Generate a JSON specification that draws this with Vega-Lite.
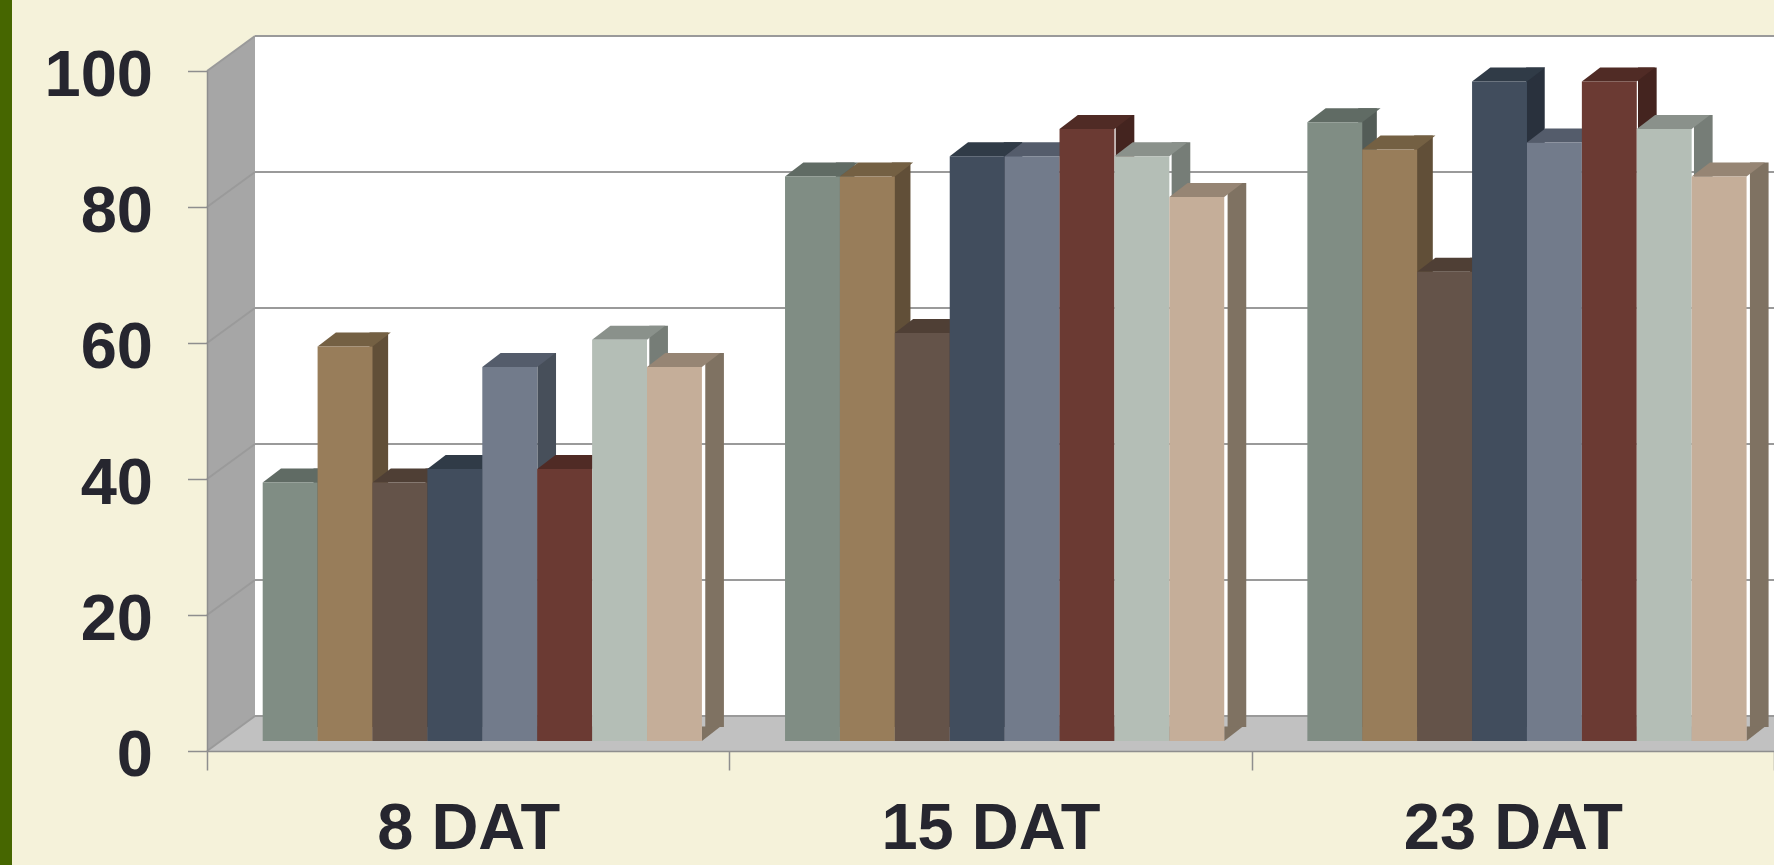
{
  "$schema": "https://vega.github.io/schema/vega-lite/v6.json",
  "width": 1519,
  "height": 680,
  "autosize": {"type": "none"},
  "padding": {"left": 255, "top": 36, "right": 0, "bottom": 149},
  "background": "#F5F2DA",
  "config": {
    "view": {"fill": "#FFFFFF", "stroke": null},
    "axis": {
      "labelFont": "Liberation Sans",
      "labelFontWeight": "bold",
      "labelFontSize": 65,
      "labelColor": "#26262F",
      "labelLimit": 0,
      "domainColor": "#8E8E8E",
      "domainWidth": 1.5,
      "tickColor": "#8E8E8E",
      "tickWidth": 1.5
    }
  },
  "datasets": {
    "germination": [
      {"stage": "8 DAT", "treatment": "T1", "value": 38},
      {"stage": "8 DAT", "treatment": "T2", "value": 58},
      {"stage": "8 DAT", "treatment": "T3", "value": 38},
      {"stage": "8 DAT", "treatment": "T4", "value": 40},
      {"stage": "8 DAT", "treatment": "T5", "value": 55},
      {"stage": "8 DAT", "treatment": "T6", "value": 40},
      {"stage": "8 DAT", "treatment": "T7", "value": 59},
      {"stage": "8 DAT", "treatment": "T8", "value": 55},
      {"stage": "15 DAT", "treatment": "T1", "value": 83},
      {"stage": "15 DAT", "treatment": "T2", "value": 83},
      {"stage": "15 DAT", "treatment": "T3", "value": 60},
      {"stage": "15 DAT", "treatment": "T4", "value": 86},
      {"stage": "15 DAT", "treatment": "T5", "value": 86},
      {"stage": "15 DAT", "treatment": "T6", "value": 90},
      {"stage": "15 DAT", "treatment": "T7", "value": 86},
      {"stage": "15 DAT", "treatment": "T8", "value": 80},
      {"stage": "23 DAT", "treatment": "T1", "value": 91},
      {"stage": "23 DAT", "treatment": "T2", "value": 87},
      {"stage": "23 DAT", "treatment": "T3", "value": 69},
      {"stage": "23 DAT", "treatment": "T4", "value": 97},
      {"stage": "23 DAT", "treatment": "T5", "value": 88},
      {"stage": "23 DAT", "treatment": "T6", "value": 97},
      {"stage": "23 DAT", "treatment": "T7", "value": 90},
      {"stage": "23 DAT", "treatment": "T8", "value": 83}
    ],
    "levels": [
      {"stage": "8 DAT", "level": 0},
      {"stage": "8 DAT", "level": 20},
      {"stage": "8 DAT", "level": 40},
      {"stage": "8 DAT", "level": 60},
      {"stage": "8 DAT", "level": 80},
      {"stage": "8 DAT", "level": 100}
    ]
  },
  "layer": [
    {
      "data": {"values": [{"stage": "8 DAT", "level": 100}]},
      "mark": {"type": "point", "shape": "M-255,-36L-243,-36L-243,829L-255,829Z", "size": 4, "filled": true, "fill": "#466600", "opacity": 1, "strokeWidth": 0},
      "encoding": {
        "x": {"field": "stage", "type": "nominal", "bandPosition": 0, "title": null,
              "scale": {"domain": ["8 DAT", "15 DAT", "23 DAT"], "range": [0, 1567], "paddingInner": 0, "paddingOuter": 0, "round": false}},
        "y": {"field": "level", "type": "quantitative", "scale": {"domain": [0, 100], "nice": false}, "axis": null}
      }
    },
    {
      "data": {"values": [{"stage": "8 DAT", "level": 100}]},
      "mark": {"type": "point", "shape": "M0,0L0,680L-48,715L-48,35Z", "size": 4, "filled": true, "fill": "#A6A6A6", "opacity": 1, "strokeWidth": 0},
      "encoding": {
        "x": {"field": "stage", "type": "nominal", "bandPosition": 0, "title": null,
              "scale": {"domain": ["8 DAT", "15 DAT", "23 DAT"], "range": [0, 1567], "paddingInner": 0, "paddingOuter": 0, "round": false}},
        "y": {"field": "level", "type": "quantitative", "scale": {"domain": [0, 100], "nice": false}, "axis": null}
      }
    },
    {
      "data": {"values": [{"stage": "8 DAT", "level": 0}]},
      "mark": {"type": "point", "shape": "M0,0L1600,0L1552,35.5L-48,35.5Z", "size": 4, "filled": true, "fill": "#C1C1C1", "opacity": 1, "strokeWidth": 0},
      "encoding": {
        "x": {"field": "stage", "type": "nominal", "bandPosition": 0, "title": null,
              "scale": {"domain": ["8 DAT", "15 DAT", "23 DAT"], "range": [0, 1567], "paddingInner": 0, "paddingOuter": 0, "round": false}},
        "y": {"field": "level", "type": "quantitative", "scale": {"domain": [0, 100], "nice": false}, "axis": null}
      }
    },
    {
      "data": {"name": "levels"},
      "mark": {"type": "point", "shape": "M0,0L-48,35", "size": 4, "filled": false, "stroke": "#9A9A9A", "strokeWidth": 2, "opacity": 1},
      "encoding": {
        "x": {"field": "stage", "type": "nominal", "bandPosition": 0, "title": null,
              "scale": {"domain": ["8 DAT", "15 DAT", "23 DAT"], "range": [0, 1567], "paddingInner": 0, "paddingOuter": 0, "round": false}},
        "y": {"field": "level", "type": "quantitative", "scale": {"domain": [0, 100], "nice": false}, "axis": null}
      }
    },
    {
      "data": {"name": "levels"},
      "mark": {"type": "rule", "stroke": "#9A9A9A", "strokeWidth": 2},
      "encoding": {
        "y": {"field": "level", "type": "quantitative", "scale": {"domain": [0, 100], "nice": false},
              "axis": {"orient": "left", "offset": 48, "position": 35, "values": [0, 20, 40, 60, 80, 100],
                       "tickSize": 19.5, "labelPadding": 35, "labelOffset": 4, "labelBaseline": "middle",
                       "grid": false, "zindex": 1, "title": null}}
      }
    },
    {
      "data": {"name": "germination"},
      "mark": {"type": "bar", "strokeWidth": 0},
      "encoding": {
        "x": {"field": "stage", "type": "nominal", "title": null,
              "scale": {"domain": ["8 DAT", "15 DAT", "23 DAT"], "range": [0, 1567], "paddingInner": 0, "paddingOuter": 0, "round": false}},
        "xOffset": {"field": "treatment", "type": "nominal",
                    "scale": {"type": "band", "domain": ["T1", "T2", "T3", "T4", "T5", "T6", "T7", "T8"], "paddingInner": 0.66667, "paddingOuter": 1.0904, "align": 0.5228, "round": false}},
        "y": {"field": "value", "type": "quantitative", "stack": null,
              "scale": {"domain": [0, 100], "nice": false, "range": [691, 11]}, "axis": null},
        "fill": {"field": "treatment", "type": "nominal", "legend": null,
                 "scale": {"domain": ["T1", "T2", "T3", "T4", "T5", "T6", "T7", "T8"],
                           "range": ["#535C57", "#614F38", "#4A3C33", "#29313D", "#474F5A", "#44241F", "#767D77", "#7F7262"]}}
      }
    },
    {
      "data": {"name": "germination"},
      "mark": {"type": "point", "shape": "M27.45,0L27.45,-14.5L46.05,-14.5Z", "size": 4, "filled": true, "opacity": 1, "strokeWidth": 0},
      "encoding": {
        "x": {"field": "stage", "type": "nominal", "title": null,
              "scale": {"domain": ["8 DAT", "15 DAT", "23 DAT"], "range": [0, 1567], "paddingInner": 0, "paddingOuter": 0, "round": false}},
        "xOffset": {"field": "treatment", "type": "nominal",
                    "scale": {"type": "band", "domain": ["T1", "T2", "T3", "T4", "T5", "T6", "T7", "T8"], "paddingInner": 0, "paddingOuter": 0.757, "align": 0.0926, "round": false}},
        "y": {"datum": 0, "type": "quantitative",
              "scale": {"domain": [0, 100], "nice": false, "range": [705, 25]}, "axis": null},
        "fill": {"field": "treatment", "type": "nominal", "legend": null,
                 "scale": {"domain": ["T1", "T2", "T3", "T4", "T5", "T6", "T7", "T8"],
                           "range": ["#535C57", "#614F38", "#4A3C33", "#29313D", "#474F5A", "#44241F", "#767D77", "#7F7262"]}}
      }
    },
    {
      "data": {"name": "germination"},
      "mark": {"type": "point", "shape": "M-27.45,0L27.45,0L45.75,-14L-9.15,-14Z", "size": 4, "filled": true, "opacity": 1, "strokeWidth": 0},
      "encoding": {
        "x": {"field": "stage", "type": "nominal", "title": null,
              "scale": {"domain": ["8 DAT", "15 DAT", "23 DAT"], "range": [0, 1567], "paddingInner": 0, "paddingOuter": 0, "round": false}},
        "xOffset": {"field": "treatment", "type": "nominal",
                    "scale": {"type": "band", "domain": ["T1", "T2", "T3", "T4", "T5", "T6", "T7", "T8"], "paddingInner": 0, "paddingOuter": 0.757, "align": 0.0926, "round": false}},
        "y": {"field": "value", "type": "quantitative",
              "scale": {"domain": [0, 100], "nice": false, "range": [705, 25]}, "axis": null},
        "fill": {"field": "treatment", "type": "nominal", "legend": null,
                 "scale": {"domain": ["T1", "T2", "T3", "T4", "T5", "T6", "T7", "T8"],
                           "range": ["#606B64", "#746043", "#4F3F35", "#303B47", "#545C6B", "#502B25", "#8A918B", "#968574"]}}
      }
    },
    {
      "data": {"name": "germination"},
      "mark": {"type": "bar", "strokeWidth": 0},
      "encoding": {
        "x": {"field": "stage", "type": "nominal", "title": null,
              "scale": {"domain": ["8 DAT", "15 DAT", "23 DAT"], "range": [0, 1567], "paddingInner": 0, "paddingOuter": 0, "round": false},
              "axis": {"orient": "bottom", "offset": 35, "position": -48, "tickBand": "extent", "tickSize": 19,
                       "labelPadding": 58, "labelAngle": 0, "labelAlign": "center", "labelLimit": 0, "zindex": 1, "title": null}},
        "xOffset": {"field": "treatment", "type": "nominal",
                    "scale": {"type": "band", "domain": ["T1", "T2", "T3", "T4", "T5", "T6", "T7", "T8"], "paddingInner": 0, "paddingOuter": 0.757, "align": 0.0926, "round": false}},
        "y": {"field": "value", "type": "quantitative", "stack": null,
              "scale": {"domain": [0, 100], "nice": false, "range": [705, 25]}, "axis": null},
        "fill": {"field": "treatment", "type": "nominal", "legend": null,
                 "scale": {"domain": ["T1", "T2", "T3", "T4", "T5", "T6", "T7", "T8"],
                           "range": ["#808D84", "#987D5A", "#645349", "#414D5D", "#727B8B", "#6B3A33", "#B4BEB6", "#C5AE99"]}}
      }
    }
  ],
  "resolve": {"scale": {"y": "independent", "xOffset": "independent", "fill": "independent"}}
}
